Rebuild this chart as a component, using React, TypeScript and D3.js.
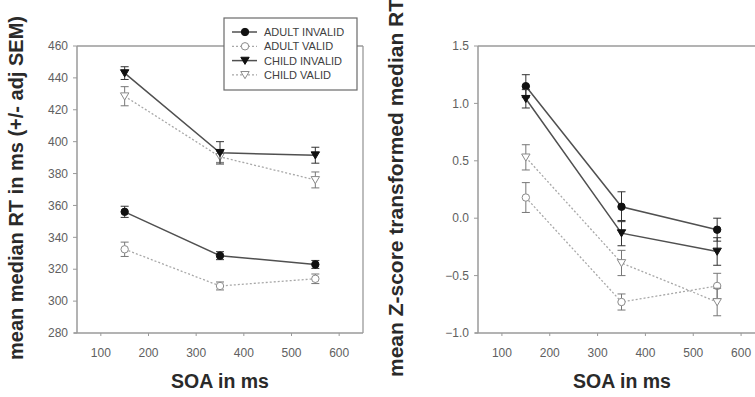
import React from "react";
import * as d3 from "d3";

const soa = [150, 350, 550];
const seriesNames = ["ADULT INVALID", "ADULT VALID", "CHILD INVALID", "CHILD VALID"];

// Left panel: mean median RT (ms)
const rtAdultInvalid = [356, 328.5, 323];
const rtAdultInvalidErr = [3.5, 2.5, 2.5];
const rtAdultValid = [332.5, 309.5, 314];
const rtAdultValidErr = [4.5, 2.5, 3];
const rtChildInvalid = [443, 393, 391.5];
const rtChildInvalidErr = [4, 7, 5];
const rtChildValid = [428.5, 390.5, 376];
const rtChildValidErr = [6, 3.5, 5];

// Right panel: Z-score transformed median RT
const zAdultInvalid = [1.15, 0.1, -0.1];
const zAdultInvalidErr = [0.1, 0.13, 0.1];
const zAdultValid = [0.18, -0.73, -0.59];
const zAdultValidErr = [0.13, 0.07, 0.11];
const zChildInvalid = [1.04, -0.13, -0.29];
const zChildInvalidErr = [0.08, 0.11, 0.12];
const zChildValid = [0.53, -0.39, -0.73];
const zChildValidErr = [0.11, 0.11, 0.12];

const xTicks = [100, 200, 300, 400, 500, 600];
const rtTicks = [280, 300, 320, 340, 360, 380, 400, 420, 440, 460];
const zTicks = [-1.0, -0.5, 0.0, 0.5, 1.0, 1.5];

const FONT = "'Liberation Sans', Arial, sans-serif";
const AXIS = "#9a9a9a";
const TICKTXT = "#606060";
const TITLE = "#2a2a2a";
const DARK = "#505050";
const LIGHT = "#a8a8a8";

type Series = { vals: number[]; errs: number[]; filled: boolean; tri: boolean; dark: boolean };

function Marker({ x, y, filled, tri, dark }: { x: number; y: number; filled: boolean; tri: boolean; dark: boolean }) {
  const col = dark ? "#111" : "#8a8a8a";
  if (tri) {
    const s = 4.2;
    const p = `M${x - s},${y - s * 0.8} L${x + s},${y - s * 0.8} L${x},${y + s * 0.9} Z`;
    return <path d={p} fill={filled ? col : "white"} stroke={col} strokeWidth={1} />;
  }
  return <circle cx={x} cy={y} r={3.7} fill={filled ? col : "white"} stroke={col} strokeWidth={1} />;
}

function Panel({
  left, top, right, bottom, yDomain, yTicks, yFmt, series, yTitle, yTitleX, yTitleSize, xTitleX, legend,
}: {
  left: number; top: number; right: number; bottom: number; yDomain: [number, number]; yTicks: number[];
  yFmt: (v: number) => string; series: Series[]; yTitle: string; yTitleX: number; yTitleSize: number;
  xTitleX: number; legend?: boolean;
}) {
  const x = d3.scaleLinear().domain([50, 650]).range([left, right]);
  const y = d3.scaleLinear().domain(yDomain).range([bottom, top]);
  const line = d3.line<number>().x((_, i) => x(soa[i])).y((v) => y(v));
  const order = [1, 3, 0, 2];
  return (
    <g>
      <line x1={left} y1={top} x2={right} y2={top} stroke={AXIS} strokeWidth={1.3} />
      <line x1={right} y1={top} x2={right} y2={bottom} stroke={AXIS} strokeWidth={1.3} />
      <line x1={left} y1={top} x2={left} y2={bottom} stroke={AXIS} strokeWidth={1.5} />
      <line x1={left - 3} y1={bottom} x2={right} y2={bottom} stroke={AXIS} strokeWidth={1.5} />
      {yTicks.map((t) => (
        <g key={"y" + t}>
          <line x1={left - 4} x2={left} y1={y(t)} y2={y(t)} stroke={AXIS} strokeWidth={1} />
          <text x={left - 9} y={y(t)} dy="0.35em" textAnchor="end" fontSize={12} fill={TICKTXT} fontFamily={FONT}>
            {yFmt(t)}
          </text>
        </g>
      ))}
      {xTicks.map((t) => (
        <g key={"x" + t}>
          <line x1={x(t)} x2={x(t)} y1={bottom} y2={bottom + 3} stroke={AXIS} strokeWidth={1} />
          <text x={x(t)} y={bottom + 24} textAnchor="middle" fontSize={12} fill={TICKTXT} fontFamily={FONT}>
            {t}
          </text>
        </g>
      ))}
      <text x={xTitleX} y={388} textAnchor="middle" fontSize={19.5} fontWeight="bold" fill={TITLE} fontFamily={FONT}>
        SOA in ms
      </text>
      <text
        transform={`translate(${yTitleX},188) rotate(-90)`}
        textAnchor="middle"
        dy="0.35em"
        fontSize={yTitleSize}
        fontWeight="bold"
        fill={TITLE}
        fontFamily={FONT}
      >
        {yTitle}
      </text>
      {order.map((si) => {
        const s = series[si];
        return (
          <g key={"s" + si}>
            <path
              d={line(s.vals) || ""}
              fill="none"
              stroke={s.dark ? DARK : LIGHT}
              strokeWidth={s.dark ? 1.5 : 1.3}
              strokeDasharray={s.dark ? undefined : "2,2"}
            />
            {s.vals.map((v, i) => {
              const cx = x(soa[i]);
              const e = s.errs[i];
              const c = s.dark ? "#333" : "#777";
              return (
                <g key={i}>
                  <line x1={cx} x2={cx} y1={y(v + e)} y2={y(v - e)} stroke={c} strokeWidth={1} />
                  <line x1={cx - 4} x2={cx + 4} y1={y(v + e)} y2={y(v + e)} stroke={c} strokeWidth={1} />
                  <line x1={cx - 4} x2={cx + 4} y1={y(v - e)} y2={y(v - e)} stroke={c} strokeWidth={1} />
                  <Marker x={cx} y={y(v)} filled={s.filled} tri={s.tri} dark={s.dark} />
                </g>
              );
            })}
          </g>
        );
      })}
      {legend && (
        <g>
          <rect x={224} y={18} width={133} height={72} fill="white" stroke="#6a6a6a" strokeWidth={1.2} />
          {seriesNames.map((n, i) => {
            const s = series[i];
            const ly = 32 + i * 14.3;
            return (
              <g key={n}>
                <line
                  x1={232}
                  x2={257}
                  y1={ly}
                  y2={ly}
                  stroke={s.dark ? DARK : LIGHT}
                  strokeWidth={s.dark ? 1.5 : 1.2}
                  strokeDasharray={s.dark ? undefined : "2,2"}
                />
                <Marker x={245} y={ly} filled={s.filled} tri={s.tri} dark={s.dark} />
                <text x={264} y={ly} dy="0.36em" fontSize={11} fill="#404040" fontFamily={FONT}>
                  {n}
                </text>
              </g>
            );
          })}
        </g>
      )}
    </g>
  );
}

export default function App() {
  const rtSeries: Series[] = [
    { vals: rtAdultInvalid, errs: rtAdultInvalidErr, filled: true, tri: false, dark: true },
    { vals: rtAdultValid, errs: rtAdultValidErr, filled: false, tri: false, dark: false },
    { vals: rtChildInvalid, errs: rtChildInvalidErr, filled: true, tri: true, dark: true },
    { vals: rtChildValid, errs: rtChildValidErr, filled: false, tri: true, dark: false },
  ];
  const zSeries: Series[] = [
    { vals: zAdultInvalid, errs: zAdultInvalidErr, filled: true, tri: false, dark: true },
    { vals: zAdultValid, errs: zAdultValidErr, filled: false, tri: false, dark: false },
    { vals: zChildInvalid, errs: zChildInvalidErr, filled: true, tri: true, dark: true },
    { vals: zChildValid, errs: zChildValidErr, filled: false, tri: true, dark: false },
  ];
  return (
    <svg width={755} height={397} style={{ position: "absolute", left: 0, top: 0, background: "white" }}>
      <rect width={755} height={397} fill="white" />
      <Panel
        left={77}
        top={46}
        right={363}
        bottom={333}
        yDomain={[280, 460]}
        yTicks={rtTicks}
        yFmt={(v) => String(v)}
        series={rtSeries}
        yTitle="mean median RT in ms (+/- adj SEM)"
        yTitleX={16}
        yTitleSize={20}
        xTitleX={220}
        legend
      />
      <Panel
        left={478}
        top={46}
        right={765}
        bottom={333}
        yDomain={[-1, 1.5]}
        yTicks={zTicks}
        yFmt={(v) => d3.format(".1f")(v)}
        series={zSeries}
        yTitle="mean Z-score transformed median RT"
        yTitleX={396}
        yTitleSize={21}
        xTitleX={622}
      />
    </svg>
  );
}
